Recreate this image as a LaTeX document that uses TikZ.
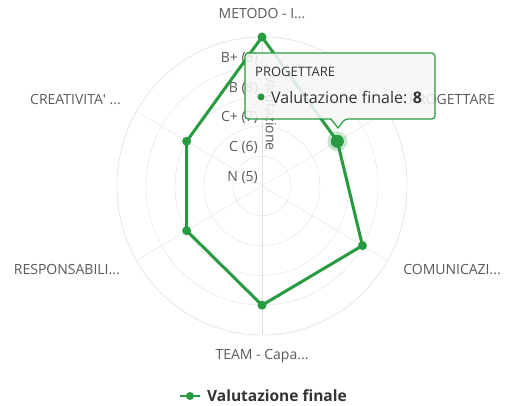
\documentclass[tikz,border=0pt]{standalone}
\usepackage{fontspec}
\setmainfont{Open Sans}
\definecolor{serie}{RGB}{40,155,65}
\definecolor{gridgray}{RGB}{225,225,225}
\definecolor{gridblue}{RGB}{204,214,235}
\definecolor{labelgray}{RGB}{90,90,90}
\definecolor{textdark}{RGB}{51,51,51}
\definecolor{tipfill}{RGB}{247,247,247}

\begin{document}
\begin{tikzpicture}[x=1pt, y=1pt,
  cat/.style={text=labelgray, font=\fontsize{14}{16}\selectfont, inner sep=0pt},
  ticklbl/.style={text=labelgray, font=\fontsize{14}{16}\selectfont, inner sep=0pt, anchor=east},
  marker/.style={circle, fill=serie, inner sep=0pt, minimum size=9pt},
  serieline/.style={draw=serie, line width=3pt, line join=round}]
  \useasboundingbox (0,0) rectangle (506,405);
  \fill[white] (0,0) rectangle (506,405);

  % polar grid
  \begin{scope}[shift={(262,219)}, x=29pt, y=29.8pt]
    \coordinate (o) at (0,0);
    \draw[gridgray] (o) circle [radius=1];
    \draw[gridgray] (o) circle [radius=2];
    \draw[gridgray] (o) circle [radius=3];
    \draw[gridgray] (o) circle [radius=4];
    \coordinate (s1) at (90:5);
    \coordinate (s2) at (30:5);
    \coordinate (s3) at (-30:5);
    \coordinate (s4) at (-90:5);
    \coordinate (s5) at (210:5);
    \coordinate (s6) at (150:5);
    \draw[gridgray] (o) -- (s1);
    \draw[gridgray] (o) -- (s2);
    \draw[gridgray] (o) -- (s3);
    \draw[gridgray] (o) -- (s4);
    \draw[gridgray] (o) -- (s5);
    \draw[gridgray] (o) -- (s6);
    \draw[gridblue] (o) circle [radius=5];
    % data
    \coordinate (v1) at (90:5);
    \coordinate (v2) at (30:3);
    \coordinate (v3) at (-30:4);
    \coordinate (v4) at (-90:4);
    \coordinate (v5) at (210:3);
    \coordinate (v6) at (150:3);
  \end{scope}

  % axis labels
  \node[ticklbl] (t5) at (258,227) {N (5)};
  \node[ticklbl] (t6) at (258,257) {C (6)};
  \node[ticklbl] (t7) at (258,287) {C+ (7)};
  \node[ticklbl] (t8) at (258,316) {B (8)};
  \node[ticklbl] (t9) at (258,346) {B+ (9)};
  \node[cat, rotate=-90] (axt) at (271,292) {Valutazione};

  % categories
  \node[cat] (c1) at (262,391) {METODO - I...};
  \node[cat, anchor=east] (c2) at (495,306) {PROGETTARE};
  \node[cat, anchor=east] (c3) at (501,135) {COMUNICAZI...};
  \node[cat] (c4) at (262,49) {TEAM - Capa...};
  \node[cat, anchor=east] (c5) at (120,135) {RESPONSABILI...};
  \node[cat, anchor=east] (c6) at (121,305) {CREATIVITA\textquotesingle{} ...};

  % series
  \draw[serieline] (v1) -- (v2) -- (v3) -- (v4) -- (v5) -- (v6) -- cycle;
  \fill[serie, opacity=0.25] (v2) circle (10pt);
  \node[marker] (m1) at (v1) {};
  \node[marker, minimum size=13pt] (m2) at (v2) {};
  \node[marker] (m3) at (v3) {};
  \node[marker] (m4) at (v4) {};
  \node[marker] (m5) at (v5) {};
  \node[marker] (m6) at (v6) {};

  % tooltip
  \draw[serie, line width=1.2pt, fill=tipfill, fill opacity=0.88, rounded corners=3pt]
    (245,352) -- (435,352) -- (435,286) -- (345,286) [sharp corners] -- (338,277)
    -- (331,286) [rounded corners=3pt] -- (245,286) -- cycle;
  \node[anchor=west, inner sep=0pt, text=textdark, font=\fontsize{13}{15}\selectfont] (tt) at (255,333) {PROGETTARE};
  \node[circle, fill=serie, inner sep=0pt, minimum size=7pt] (td) at (261,308) {};
  \node[anchor=west, inner sep=0pt, text=textdark, font=\fontsize{16}{18}\selectfont] (tv) at (271,308) {Valutazione finale: \textbf{8}};

  % legend
  \coordinate (la) at (180,9);
  \coordinate (lb) at (200,9);
  \draw[serie, line width=2.5pt] (la) -- (lb);
  \node[marker, minimum size=8pt] (lm) at (190,9) {};
  \node[anchor=west, inner sep=0pt, text=textdark, font=\bfseries\fontsize{15.5}{17}\selectfont] (lt) at (207,9) {Valutazione finale};
\end{tikzpicture}
\end{document}
